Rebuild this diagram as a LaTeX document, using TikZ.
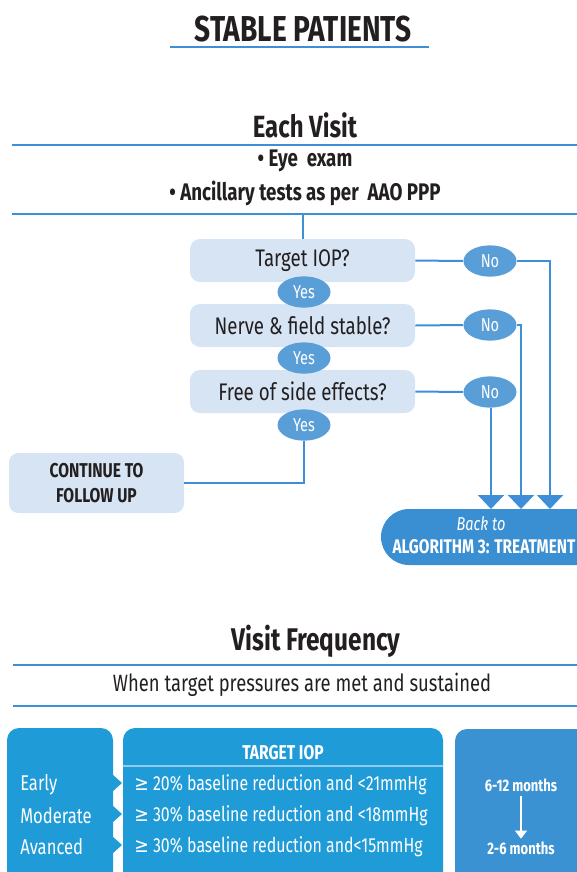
\documentclass[tikz,border=0pt]{standalone}
\usepackage{fontspec}
\setmainfont{Fira Sans}[FakeStretch=0.78]
\newfontfamily\symf{DejaVu Sans}[FakeStretch=0.85]
\usetikzlibrary{arrows.meta,shapes.geometric}
\definecolor{lineblue}{HTML}{3E8FD8}
\definecolor{boxfill}{HTML}{D6E4F3}
\definecolor{ovalfill}{HTML}{5A9ED8}
\definecolor{algo}{HTML}{3A8ED2}
\definecolor{cyanbox}{HTML}{1F9BD7}
\definecolor{rightbox}{HTML}{3B92D2}
\definecolor{sepline}{HTML}{8CCBEE}
\definecolor{txt}{HTML}{231F20}
\tikzset{
  heading/.style={text=txt, inner sep=0pt},
  rule/.style={draw=lineblue, line width=1.5pt},
  qbox/.style={rectangle, rounded corners=7.5pt, fill=boxfill, minimum width=168.75pt, minimum height=32.25pt, inner sep=0pt, text=txt, font=\fontsize{18}{21}\selectfont},
  oval/.style={ellipse, fill=ovalfill, minimum width=39.75pt, minimum height=23.5pt, inner sep=0pt, text=white, font=\fontsize{14}{16}\selectfont},
  conn/.style={draw=lineblue, line width=1.5pt},
  arr/.style={conn, -{Triangle[width=19.5pt,length=10.5pt]}},
  bigbox/.style={rectangle, rounded corners=9pt, minimum height=129pt, inner sep=0pt},
  wtext/.style={text=white, inner sep=0pt},
}
\begin{document}
\begin{tikzpicture}[x=0.75pt,y=-0.75pt]
\useasboundingbox (0,0) rectangle (577,872);
\clip (0,0) rectangle (577,872);
% title
\node[heading, font=\fontsize{27}{30}\bfseries\selectfont] (title) at (303,29) {STABLE PATIENTS};
\draw[rule] (170,47) -- (429,47);
% each visit
\node[heading, font=\fontsize{23}{26}\bfseries\selectfont] (each) at (305,125) {Each Visit};
\draw[rule] (12,145) -- (577,145);
\node[heading, font=\fontsize{18}{21}\bfseries\selectfont] (eye) at (305,161) {• Eye\ \ exam};
\node[heading, font=\fontsize{18}{21}\bfseries\selectfont] (anc) at (305,193) {• Ancillary tests as per\ \ AAO PPP};
\draw[rule] (12,214) -- (577,214);
\coordinate (top) at (303,214);
% questions
\node[qbox] (b1) at (302.5,260.5) {Target IOP?};
\node[qbox] (b2) at (302.5,325.5) {Nerve \& field stable?};
\node[qbox] (b3) at (302.5,391.5) {Free of side effects?};
\node[oval] (y1) at (304,292) {Yes};
\node[oval] (y2) at (304,358) {Yes};
\node[oval] (y3) at (304,425) {Yes};
\node[oval] (n1) at (490,261) {No};
\node[oval] (n2) at (490,325) {No};
\node[oval] (n3) at (490,392) {No};
\node[qbox, rounded corners=7pt, minimum width=131.25pt, minimum height=45pt, align=center, font=\fontsize{15}{18.5}\bfseries\selectfont] (cont) at (96.5,483) {CONTINUE TO\\FOLLOW UP};
\node[rectangle, rounded corners=21pt, fill=algo, minimum width=194.25pt, minimum height=42pt] (algo) at (510.5,537) {};
\node[wtext, font=\fontsize{14}{16}\itshape\selectfont] (back) at (481,524) {Back to};
\node[wtext, font=\fontsize{14.8}{17}\bfseries\selectfont] (alg) at (484,547) {ALGORITHM 3: TREATMENT};
% connectors
\draw[conn] (top) -- (top |- b1.north);
\draw[conn] (b1.east) -- (n1.west);
\draw[conn] (b2.east) -- (n2.west);
\draw[conn] (b3.east) -- (n3.west);
\coordinate (t3) at (491,509);
\coordinate (t2) at (521,509);
\coordinate (t1) at (550,509);
\draw[arr] (n1.east) -| (t1);
\draw[arr] (n2.east) -| (t2);
\draw[arr] (n3.south -| t3) -- (t3);
\draw[conn] (y3.south) |- (cont.east);
% visit frequency
\node[heading, font=\fontsize{23.5}{26}\bfseries\selectfont] (vf) at (316,641) {Visit Frequency};
\draw[rule] (13,665) -- (577,665);
\node[heading, font=\fontsize{17.7}{20}\selectfont] (when) at (302,685) {When target pressures are met and sustained};
\draw[rule] (13,706) -- (577,706);
% bottom boxes
\node[bigbox, fill=cyanbox, minimum width=79.5pt] (stage) at (60,814) {};
\fill[cyanbox] (112,774) -- (122,783) -- (112,792) -- cycle;
\fill[cyanbox] (112,805) -- (122,814) -- (112,823) -- cycle;
\fill[cyanbox] (112,836) -- (122,845) -- (112,854) -- cycle;
\node[bigbox, fill=cyanbox, minimum width=240pt] (mid) at (283,814) {};
\node[bigbox, fill=rightbox, minimum width=108.75pt, minimum height=128.25pt] (right) at (527.5,814.5) {};
\draw[sepline, line width=1.2pt] (mid.west |- 0,766) -- (mid.east |- 0,766);
\node[wtext, font=\fontsize{15}{17}\bfseries\selectfont] (tiop) at (283,753) {TARGET IOP};
\begin{scope}[every node/.style={wtext, anchor=west, font=\fontsize{16}{18}\selectfont}]
\node (s1) at (20,785) {Early};
\node (s2) at (20,816) {Moderate};
\node (s3) at (20,847) {Avanced};
\end{scope}
\begin{scope}[every node/.style={wtext, anchor=west, font=\fontsize{15.3}{18}\selectfont}]
\node (r1) at (134,785) {{\symf ≥} 20\% baseline reduction and <21mmHg};
\node (r2) at (134,816) {{\symf ≥} 30\% baseline reduction and <18mmHg};
\node (r3) at (134,847) {{\symf ≥} 30\% baseline reduction and<15mmHg};
\end{scope}
\node[wtext, font=\fontsize{12.5}{14}\bfseries\selectfont] (m1) at (521,785) {6-12 months};
\node[wtext, font=\fontsize{12.5}{14}\bfseries\selectfont] (m2) at (521,848) {2-6 months};
\draw[white, line width=0.8pt, -{Triangle[width=9pt,length=6pt]}, shorten <=3pt, shorten >=2pt] (m1.south) -- (m2.north);
\end{tikzpicture}
\end{document}
